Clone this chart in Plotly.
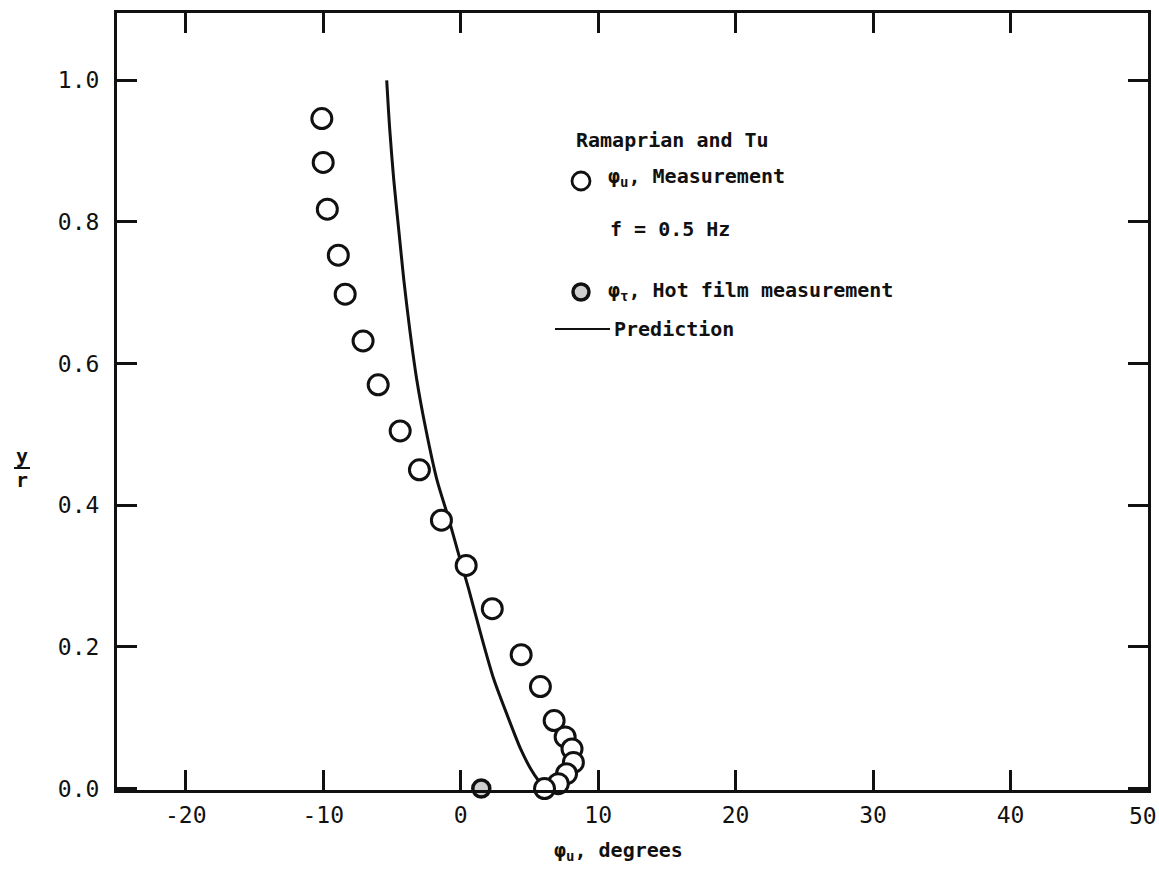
import plotly.graph_objects as go

# Ramaprian and Tu, phase of velocity oscillation across the pipe, f = 0.5 Hz
phi_u_meas = [-10.1, -10.0, -9.7, -8.9, -8.4, -7.1, -6.0, -4.4, -3.0, -1.4,
              0.4, 2.3, 4.4, 5.8, 6.8, 7.6, 8.1, 8.2, 7.7, 7.1, 6.1]
y_r_meas = [0.946, 0.884, 0.818, 0.753, 0.698, 0.632, 0.570, 0.505, 0.450, 0.379,
            0.315, 0.254, 0.189, 0.144, 0.096, 0.073, 0.056, 0.037, 0.021, 0.007, 0.0]

# Wall shear stress phase from hot film
phi_tau_hotfilm = [1.5]
y_r_hotfilm = [0.0]

# Predicted phase distribution
phi_pred = [-5.38, -5.16, -4.87, -4.51, -4.14, -3.71, -3.20, -2.54, -1.74, -0.87,
            -0.15, 0.58, 1.45, 2.40, 3.42, 4.36, 5.09, 5.67, 6.18]
y_r_pred = [1.0, 0.931, 0.860, 0.790, 0.719, 0.649, 0.578, 0.508, 0.437, 0.381,
            0.331, 0.282, 0.219, 0.155, 0.102, 0.056, 0.028, 0.011, 0.0]

x_ticks = [-20, -10, 0, 10, 20, 30, 40, 50]
y_ticks = [0.0, 0.2, 0.4, 0.6, 0.8, 1.0]

FONT = "DejaVu Sans Mono"
INK = "#111111"
TICK_SIZE = 23

fig = go.Figure()

fig.add_trace(go.Scatter(
    x=phi_pred, y=y_r_pred, mode="lines",
    line=dict(color=INK, width=3, shape="spline", smoothing=0.8),
    showlegend=False, hoverinfo="skip"))

fig.add_trace(go.Scatter(
    x=phi_u_meas, y=y_r_meas, mode="markers",
    marker=dict(symbol="circle", size=20, color="white",
                line=dict(color=INK, width=3)),
    showlegend=False, cliponaxis=False))

fig.add_trace(go.Scatter(
    x=phi_tau_hotfilm, y=y_r_hotfilm, mode="markers",
    marker=dict(symbol="circle", size=17, color="#cfcfcf",
                line=dict(color=INK, width=3.5)),
    showlegend=False, cliponaxis=False))

axis_common = dict(
    showline=True, linecolor=INK, linewidth=3, mirror="ticks",
    ticks="inside", ticklen=20, tickwidth=3, tickcolor=INK,
    showgrid=False, zeroline=False, automargin=False,
    tickfont=dict(family=FONT, size=TICK_SIZE, color=INK),
)

# The last x label sits on the frame edge, so it is written as an annotation
# below instead of letting the axis drop it for running past the page.
fig.update_xaxes(range=[-25, 50], tickvals=x_ticks,
                 ticktext=[str(v) if v != x_ticks[-1] else " " for v in x_ticks],
                 ticklabelstandoff=2, **axis_common)
fig.update_yaxes(range=[-0.002, 1.095], tickvals=y_ticks,
                 ticktext=[f"{v:.1f}" for v in y_ticks],
                 ticklabelstandoff=10, **axis_common)


def px_x(p):
    return (p - 117) / 1031


def px_y(p):
    return (790 - p) / 777


annotations = []
shapes = []


def text(x, y, s, size=20, anchor="left"):
    annotations.append(dict(
        x=px_x(x), y=px_y(y), xref="paper", yref="paper", text=s,
        showarrow=False, xanchor=anchor, yanchor="middle",
        font=dict(family=FONT, size=size, color=INK)))


annotations.append(dict(
    x=x_ticks[-1], y=px_y(816), xref="x", yref="paper", text=str(x_ticks[-1]),
    showarrow=False, xanchor="center", yanchor="middle", xshift=-5,
    font=dict(family=FONT, size=TICK_SIZE, color=INK)))

# Legend block
text(574, 140, "<b>Ramaprian and Tu</b>")
shapes.append(dict(type="circle", xref="paper", yref="paper",
                   xsizemode="pixel", ysizemode="pixel",
                   xanchor=px_x(581), yanchor=px_y(181),
                   x0=-9, x1=9, y0=-9, y1=9,
                   line=dict(color=INK, width=2.8), fillcolor="white"))
text(606, 177, "<b>φ<sub>u</sub>, Measurement</b>")
text(608, 229, "<b>f = 0.5 Hz</b>")
shapes.append(dict(type="circle", xref="paper", yref="paper",
                   xsizemode="pixel", ysizemode="pixel",
                   xanchor=px_x(581), yanchor=px_y(292),
                   x0=-8, x1=8, y0=-8, y1=8,
                   line=dict(color=INK, width=3.5), fillcolor="#cfcfcf"))
text(606, 291, "<b>φ<sub>τ</sub>, Hot film measurement</b>")
shapes.append(dict(type="line", xref="paper", yref="paper",
                   x0=px_x(555), x1=px_x(610), y0=px_y(329), y1=px_y(329),
                   line=dict(color=INK, width=2)))
text(612, 329, "<b>Prediction</b>")

# Axis titles
text(618, 851, "<b>φ<sub>u</sub>, degrees</b>", size=20, anchor="center")
text(22, 456, "<b>y</b>", size=20, anchor="center")
shapes.append(dict(type="line", xref="paper", yref="paper",
                   x0=px_x(14), x1=px_x(30), y0=px_y(468), y1=px_y(468),
                   line=dict(color=INK, width=2)))
text(22, 480, "<b>r</b>", size=20, anchor="center")

fig.update_layout(
    width=1159, height=890,
    margin=dict(l=117, r=11, t=13, b=100),
    paper_bgcolor="white", plot_bgcolor="white",
    font=dict(family=FONT, color=INK),
    annotations=annotations, shapes=shapes,
    showlegend=False,
)

fig.write_html("out.html")
